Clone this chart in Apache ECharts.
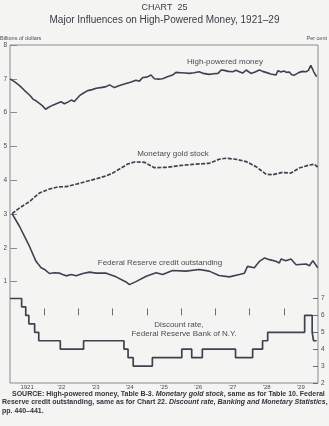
<!DOCTYPE html>
<html><head><meta charset="utf-8">
<script src="https://cdn.jsdelivr.net/npm/echarts@6/dist/echarts.min.js"></script>
<style>html,body{margin:0;padding:0;background:#f4f4f2;}#c{width:329px;height:426px;}</style>
</head><body><div id="c"></div>
<script>
const yearLabels = ['1921', "'22", "'23", "'24", "'25", "'26", "'27", "'28", "'29"];
const leftTicks = [1, 2, 3, 4, 5, 6, 7, 8];
const rightTicks = [2, 3, 4, 5, 6, 7];

const highPowered = [[1921.00,7.00],[1921.15,6.90],[1921.28,6.80],[1921.42,6.66],[1921.57,6.52],[1921.67,6.40],[1921.76,6.35],[1921.86,6.27],[1921.95,6.20],[1922.04,6.10],[1922.12,6.15],[1922.25,6.22],[1922.37,6.27],[1922.49,6.32],[1922.59,6.26],[1922.69,6.31],[1922.79,6.37],[1922.88,6.33],[1923.03,6.50],[1923.15,6.58],[1923.27,6.65],[1923.40,6.68],[1923.52,6.72],[1923.65,6.74],[1923.78,6.76],[1923.91,6.82],[1924.05,6.74],[1924.20,6.80],[1924.39,6.86],[1924.52,6.90],[1924.68,6.96],[1924.78,6.93],[1924.88,7.04],[1925.00,7.05],[1925.12,7.11],[1925.22,7.00],[1925.34,6.99],[1925.46,7.00],[1925.60,7.06],[1925.75,7.11],[1925.85,7.19],[1926.00,7.18],[1926.12,7.17],[1926.24,7.16],[1926.38,7.18],[1926.53,7.21],[1926.65,7.16],[1926.82,7.13],[1926.95,7.15],[1927.08,7.16],[1927.17,7.26],[1927.26,7.25],[1927.38,7.22],[1927.51,7.21],[1927.60,7.25],[1927.70,7.21],[1927.80,7.17],[1927.90,7.26],[1928.04,7.16],[1928.16,7.20],[1928.29,7.26],[1928.38,7.22],[1928.48,7.19],[1928.62,7.14],[1928.77,7.11],[1928.83,7.24],[1928.92,7.20],[1929.00,7.23],[1929.08,7.19],[1929.16,7.20],[1929.23,7.12],[1929.31,7.11],[1929.45,7.19],[1929.55,7.22],[1929.65,7.21],[1929.72,7.25],[1929.79,7.40],[1929.88,7.20],[1929.96,7.06]];

const goldStock = [[1921.06,3.01],[1921.28,3.18],[1921.57,3.37],[1921.86,3.62],[1922.15,3.74],[1922.40,3.80],[1922.64,3.81],[1922.93,3.88],[1923.22,3.96],[1923.52,4.04],[1923.81,4.13],[1924.00,4.21],[1924.20,4.33],[1924.44,4.48],[1924.64,4.54],[1924.93,4.53],[1925.07,4.45],[1925.22,4.37],[1925.56,4.38],[1925.95,4.43],[1926.34,4.47],[1926.82,4.50],[1927.11,4.62],[1927.31,4.65],[1927.60,4.62],[1927.90,4.55],[1928.19,4.40],[1928.48,4.18],[1928.67,4.16],[1928.96,4.23],[1929.21,4.21],[1929.45,4.36],[1929.75,4.45],[1929.89,4.47],[1929.99,4.39]];

const frCredit = [[1921.06,3.01],[1921.28,2.63],[1921.57,2.04],[1921.76,1.60],[1921.91,1.41],[1922.01,1.36],[1922.15,1.24],[1922.30,1.26],[1922.45,1.25],[1922.54,1.21],[1922.64,1.17],[1922.79,1.21],[1922.93,1.17],[1923.13,1.24],[1923.32,1.28],[1923.52,1.25],[1923.81,1.25],[1924.10,1.14],[1924.39,0.99],[1924.49,0.91],[1924.68,1.00],[1924.98,1.16],[1925.27,1.26],[1925.46,1.21],[1925.75,1.33],[1926.14,1.31],[1926.53,1.36],[1926.82,1.31],[1927.11,1.18],[1927.41,1.14],[1927.70,1.21],[1927.85,1.25],[1927.94,1.45],[1928.14,1.41],[1928.29,1.60],[1928.44,1.70],[1928.58,1.65],[1928.77,1.60],[1928.87,1.55],[1928.92,1.67],[1929.06,1.62],[1929.21,1.67],[1929.36,1.50],[1929.65,1.52],[1929.75,1.47],[1929.85,1.62],[1929.99,1.41]];

const discountRate = [[1921.00,7],[1921.34,6.5],[1921.46,6],[1921.55,5.5],[1921.72,5],[1921.84,4.5],[1922.47,4],[1923.15,4.5],[1924.33,4],[1924.45,3.5],[1924.60,3],[1925.16,3.5],[1926.02,4],[1926.31,3.5],[1926.62,4],[1927.59,3.5],[1928.09,4],[1928.38,4.5],[1928.53,5],[1929.61,6],[1929.83,5],[1929.87,4.5],[1929.96,4.5]];

const INK = '#3e4250';
const TXT = '#4a4c55';
const SRC = '#33353d';
const FONT = 'Liberation Sans, Arial, sans-serif';
const srcRich = {
  n: { fontSize: 7, fill: SRC, fontFamily: FONT, fontWeight: 'bold' },
  i: { fontSize: 7, fill: SRC, fontFamily: FONT, fontStyle: 'italic', fontWeight: 'bold' }
};

const chart = echarts.init(document.getElementById('c'));
chart.setOption({
  backgroundColor: '#f4f4f2',
  animation: false,
  grid: { left: 10, right: 11, top: 45, bottom: 43, show: true, borderColor: '#8a8c92', borderWidth: 1, backgroundColor: 'transparent' },
  xAxis: {
    type: 'value', min: 1921, max: 1930,
    axisLine: { show: false },
    splitLine: { show: false },
    axisTick: { show: true, inside: true, length: 7, customValues: [1922,1923,1924,1925,1926,1927,1928,1929], lineStyle: { color: '#6a6c72' } },
    axisLabel: { customValues: [1921.5,1922.5,1923.5,1924.5,1925.5,1926.5,1927.5,1928.5,1929.5], margin: 1, fontSize: 6, color: TXT, fontFamily: FONT,
      formatter: v => yearLabels[Math.floor(v) - 1921] }
  },
  yAxis: [
    { type: 'value', min: -2, max: 8, position: 'left',
      axisLine: { show: false }, splitLine: { show: false },
      axisTick: { show: true, inside: true, length: 7, customValues: leftTicks, lineStyle: { color: '#8a8c92' } },
      axisLabel: { customValues: leftTicks, margin: 3, fontSize: 6.5, color: TXT, fontFamily: FONT } },
    { type: 'value', min: 2, max: 22, position: 'right',
      axisLine: { show: false }, splitLine: { show: false },
      axisTick: { show: true, inside: true, length: 5, customValues: rightTicks, lineStyle: { color: '#6a6c72' } },
      axisLabel: { customValues: rightTicks, margin: 3, fontSize: 6.5, color: TXT, fontFamily: FONT } }
  ],
  series: [
    { type: 'line', data: highPowered, yAxisIndex: 0, showSymbol: false, lineStyle: { color: INK, width: 1.6 } },
    { type: 'line', data: goldStock, yAxisIndex: 0, showSymbol: false, lineStyle: { color: INK, width: 1.7, type: [4, 1.5] } },
    { type: 'line', data: frCredit, yAxisIndex: 0, showSymbol: false, lineStyle: { color: INK, width: 1.6 } },
    { type: 'line', data: discountRate, yAxisIndex: 1, step: 'end', showSymbol: false, lineStyle: { color: INK, width: 1.7 } }
  ],
  graphic: [
    { type: 'text', left: 'center', top: 3, style: { text: 'CHART  25', fontSize: 9, fill: '#3a3c44', fontFamily: FONT } },
    { type: 'text', left: 'center', top: 15, style: { text: 'Major Influences on High-Powered Money, 1921–29', fontSize: 10, fill: '#3a3c44', fontFamily: FONT } },
    { type: 'text', left: 0, top: 35, style: { text: 'Billions of dollars', fontSize: 5.5, fill: TXT, fontFamily: FONT } },
    { type: 'text', right: 2, top: 35, style: { text: 'Per cent', fontSize: 5.5, fill: TXT, fontFamily: FONT } },
    { type: 'text', x: 225, y: 62, style: { text: 'High-powered money', fontSize: 8, fill: TXT, fontFamily: FONT, align: 'center', verticalAlign: 'middle' } },
    { type: 'text', x: 173, y: 154, style: { text: 'Monetary gold stock', fontSize: 8, fill: TXT, fontFamily: FONT, align: 'center', verticalAlign: 'middle' } },
    { type: 'text', x: 160, y: 263, style: { text: 'Federal Reserve credit outstanding', fontSize: 8, fill: TXT, fontFamily: FONT, align: 'center', verticalAlign: 'middle' } },
    { type: 'text', x: 179, y: 325, style: { text: 'Discount rate,', fontSize: 8, fill: TXT, fontFamily: FONT, align: 'center', verticalAlign: 'middle' } },
    { type: 'text', x: 184, y: 334, style: { text: 'Federal Reserve Bank of N.Y.', fontSize: 8, fill: TXT, fontFamily: FONT, align: 'center', verticalAlign: 'middle' } },
    { type: 'text', x: 12, y: 394, style: { verticalAlign: 'middle', text: '{n|SOURCE: High-powered money, Table B-3. }{i|Monetary gold stock}{n|, same as for Table 10. Federal}', rich: srcRich } },
    { type: 'text', x: 2, y: 402.5, style: { verticalAlign: 'middle', text: '{n|Reserve credit outstanding, same as for Chart 22. }{i|Discount rate}{n|, }{i|Banking and Monetary Statistics}{n|,}', rich: srcRich } },
    { type: 'text', x: 2, y: 411, style: { verticalAlign: 'middle', text: 'pp. 440–441.', fontSize: 7, fill: SRC, fontFamily: FONT, fontWeight: 'bold' } }
  ]
});
</script></body></html>
